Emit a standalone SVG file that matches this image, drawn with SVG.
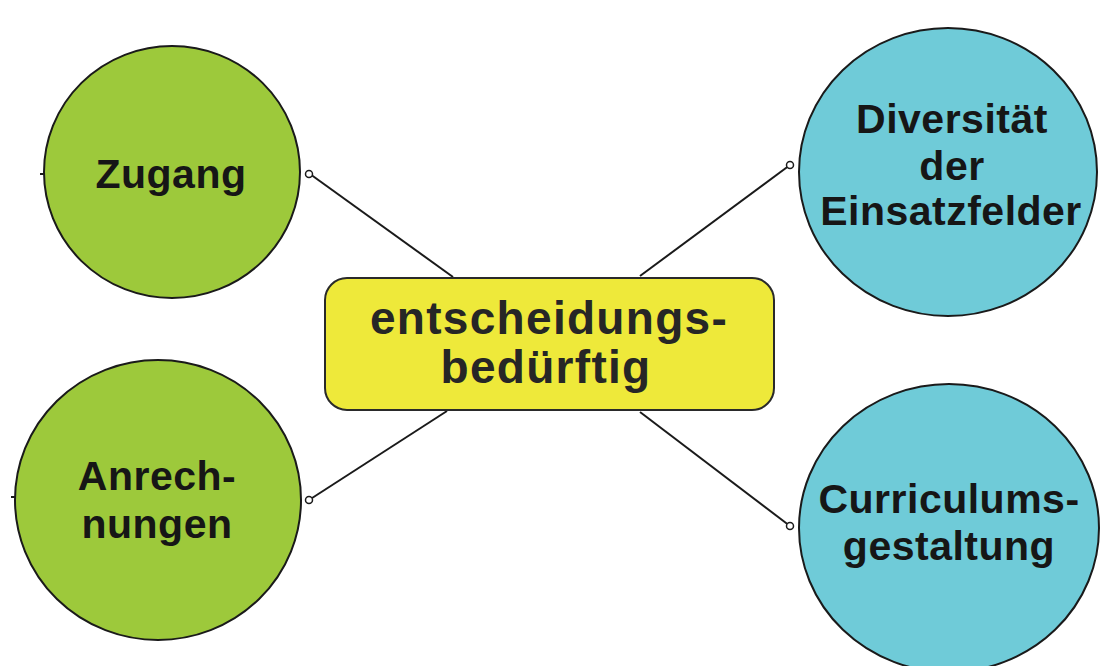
<svg xmlns="http://www.w3.org/2000/svg" width="1103" height="666" viewBox="0 0 1103 666">
<style>
.green{fill:#9dc93b;stroke:#1a1a1a;stroke-width:2}
.blue{fill:#6fcbd8;stroke:#1a1a1a;stroke-width:2}
.box{fill:#eee93a;stroke:#2a2a2a;stroke-width:2}
.t{font-family:"Liberation Sans",Arial,sans-serif;font-weight:bold;font-size:41px;fill:#161616;text-anchor:middle;letter-spacing:0.5px}
.tc{font-family:"Liberation Sans",Arial,sans-serif;font-weight:bold;font-size:46px;fill:#262626;text-anchor:middle;letter-spacing:1.3px}
.c{stroke:#1a1a1a;stroke-width:2;fill:none}
.end{fill:#fff;stroke:#1a1a1a;stroke-width:1.5}
.tick{stroke:#1a1a1a;stroke-width:2}
</style>
<rect width="1103" height="666" fill="#fff"/>
<g id="connectors">
<line class="c" x1="453" y1="277" x2="310" y2="174"/>
<line class="c" x1="640" y1="276" x2="790" y2="165"/>
<line class="c" x1="447" y1="411" x2="309" y2="500"/>
<line class="c" x1="640" y1="412" x2="790" y2="526"/>
<circle class="end" cx="309" cy="174" r="3.5"/>
<circle class="end" cx="790" cy="165" r="3.5"/>
<circle class="end" cx="309" cy="500" r="3.5"/>
<circle class="end" cx="790" cy="526" r="3.5"/>
</g>
<g id="zugang">
<ellipse class="green" cx="172" cy="172" rx="128" ry="126"/>
<line class="tick" x1="40" y1="174" x2="44" y2="174"/>
<text class="t" x="171" y="188">Zugang</text>
</g>
<g id="anrechnungen">
<ellipse class="green" cx="158" cy="500" rx="143" ry="140"/>
<line class="tick" x1="11" y1="497" x2="15" y2="497"/>
<text class="t" x="157" y="490">Anrech-</text>
<text class="t" x="157" y="538">nungen</text>
</g>
<g id="diversitaet">
<ellipse class="blue" cx="948" cy="172" rx="149" ry="144"/>
<text class="t" x="952" y="133">Diversität</text>
<text class="t" x="952" y="180">der</text>
<text class="t" x="951" y="225">Einsatzfelder</text>
</g>
<g id="curriculum">
<ellipse class="blue" cx="949" cy="528" rx="150" ry="144"/>
<text class="t" x="949" y="513">Curriculums-</text>
<text class="t" x="949" y="560">gestaltung</text>
</g>
<g id="center">
<rect class="box" x="325" y="278" width="449" height="132" rx="22"/>
<text class="tc" x="549" y="334">entscheidungs-</text>
<text class="tc" x="546" y="383">bedürftig</text>
</g>
</svg>
